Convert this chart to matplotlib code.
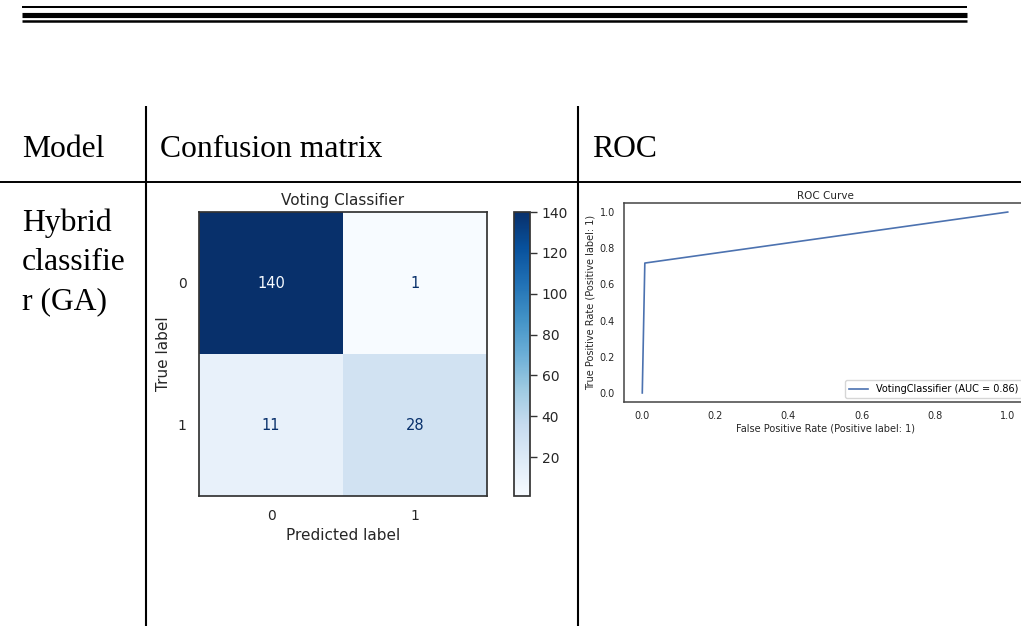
"""
Results table row for the hybrid (GA) classifier: confusion matrix and ROC curve
laid out inside a simple ruled table, as on a report page.
"""

import matplotlib
matplotlib.use("Agg")
import matplotlib.pyplot as plt
import numpy as np

# -----------------------------------------------------------------------------
# Data
# -----------------------------------------------------------------------------
class_labels = ["0", "1"]
cm_values = [[140, 1],
             [11, 28]]
cbar_ticks = [20, 40, 60, 80, 100, 120, 140]

fpr = [0.0, 0.007, 1.0]
tpr = [0.0, 0.718, 1.0]
auc_value = 0.86
roc_ticks = [0.0, 0.2, 0.4, 0.6, 0.8, 1.0]

header_labels = ["Model", "Confusion matrix", "ROC"]
model_name_lines = ["Hybrid", "classifie", "r (GA)"]

# -----------------------------------------------------------------------------
# Page geometry (pixels)
# -----------------------------------------------------------------------------
W, H = 1021, 626
SERIF = "Liberation Serif"
TEXT_COLOR = "#262626"
EDGE_COLOR = "#333333"


def px_box(left, top, right, bottom):
    """Convert a pixel box to a figure-fraction rect."""
    return [left / W, 1 - bottom / H, (right - left) / W, (bottom - top) / H]


fig = plt.figure(figsize=(W / 100, H / 100), dpi=100)
fig.patch.set_facecolor("white")

# Full-page axes in pixel units for the table rules and cell text
page = fig.add_axes([0, 0, 1, 1])
page.set_xlim(0, W)
page.set_ylim(H, 0)
page.axis("off")

# Triple rule at the top of the page
for y, lw in [(7.2, 1.45), (14.7, 3.7), (21.3, 1.8)]:
    page.plot([22, 967], [y, y], color="black", lw=lw, solid_capstyle="butt")

# Table rules
page.plot([0, W], [182, 182], color="black", lw=1.4, solid_capstyle="butt")
for x in [146, 578]:
    page.plot([x, x], [106, H], color="black", lw=1.5, solid_capstyle="butt")

# Header row and model name
for x, label in zip([22, 160, 592], header_labels):
    page.text(x, 157, label, fontsize=22.8, family=SERIF, va="baseline", ha="left")
for y, line in zip([231, 270, 309], model_name_lines):
    page.text(22, y, line, fontsize=22.8, family=SERIF, va="baseline", ha="left")

# -----------------------------------------------------------------------------
# Confusion matrix
# -----------------------------------------------------------------------------
cm = np.array(cm_values)
ax_cm = fig.add_axes(px_box(199, 212, 487, 496))
cmap = plt.get_cmap("Blues")
im = ax_cm.imshow(cm, cmap=cmap, aspect="auto", interpolation="nearest")

# Dark text on light cells, light text on dark cells
thresh = (cm.max() + cm.min()) / 2
for i in range(cm.shape[0]):
    for j in range(cm.shape[1]):
        color = cmap(0.0) if cm[i, j] > thresh else cmap(1.0)
        ax_cm.text(j, i, f"{cm[i, j]}", ha="center", va="center",
                   fontsize=10.5, color=color)

ax_cm.set_xticks(range(len(class_labels)))
ax_cm.set_yticks(range(len(class_labels)))
ax_cm.set_xticklabels(class_labels)
ax_cm.set_yticklabels(class_labels)
ax_cm.tick_params(length=0, pad=9, labelsize=10, labelcolor=TEXT_COLOR)
ax_cm.set_xlabel("Predicted label", fontsize=11, color=TEXT_COLOR, labelpad=4)
ax_cm.set_ylabel("True label", fontsize=11, color=TEXT_COLOR, labelpad=5)
ax_cm.set_title("Voting Classifier", fontsize=11, color=TEXT_COLOR, pad=5)
for spine in ax_cm.spines.values():
    spine.set_color(EDGE_COLOR)
    spine.set_linewidth(1.25)

cax = fig.add_axes(px_box(514, 212, 530, 496))
cbar = fig.colorbar(im, cax=cax, ticks=cbar_ticks)
cbar.ax.tick_params(length=5, width=1, pad=3.5, labelsize=10,
                    color=EDGE_COLOR, labelcolor=TEXT_COLOR)
cbar.outline.set_edgecolor(EDGE_COLOR)
cbar.outline.set_linewidth(1.25)

# -----------------------------------------------------------------------------
# ROC curve
# -----------------------------------------------------------------------------
ax_roc = fig.add_axes(px_box(624, 203, 1026, 402))
ax_roc.plot(fpr, tpr, color="#4c72b0", lw=1.2,
            label=f"VotingClassifier (AUC = {auc_value:.2f})")
ax_roc.set_xlim(-0.05, 1.05)
ax_roc.set_ylim(-0.05, 1.05)
ax_roc.set_xticks(roc_ticks)
ax_roc.set_yticks(roc_ticks)
ax_roc.tick_params(length=0, pad=6.5, labelsize=7, labelcolor=TEXT_COLOR)
ax_roc.set_xlabel("False Positive Rate (Positive label: 1)", fontsize=7,
                  color=TEXT_COLOR, labelpad=2)
ax_roc.set_ylabel("True Positive Rate (Positive label: 1)", fontsize=7,
                  color=TEXT_COLOR, labelpad=3)
ax_roc.set_title("ROC Curve", fontsize=7.5, color=TEXT_COLOR, pad=3)
for spine in ax_roc.spines.values():
    spine.set_color("#444444")
    spine.set_linewidth(1.1)
ax_roc.legend(loc="lower right", fontsize=7, frameon=True, edgecolor="#cccccc",
              borderaxespad=0.4)

fig.savefig("out.png", dpi=100, facecolor="white")
